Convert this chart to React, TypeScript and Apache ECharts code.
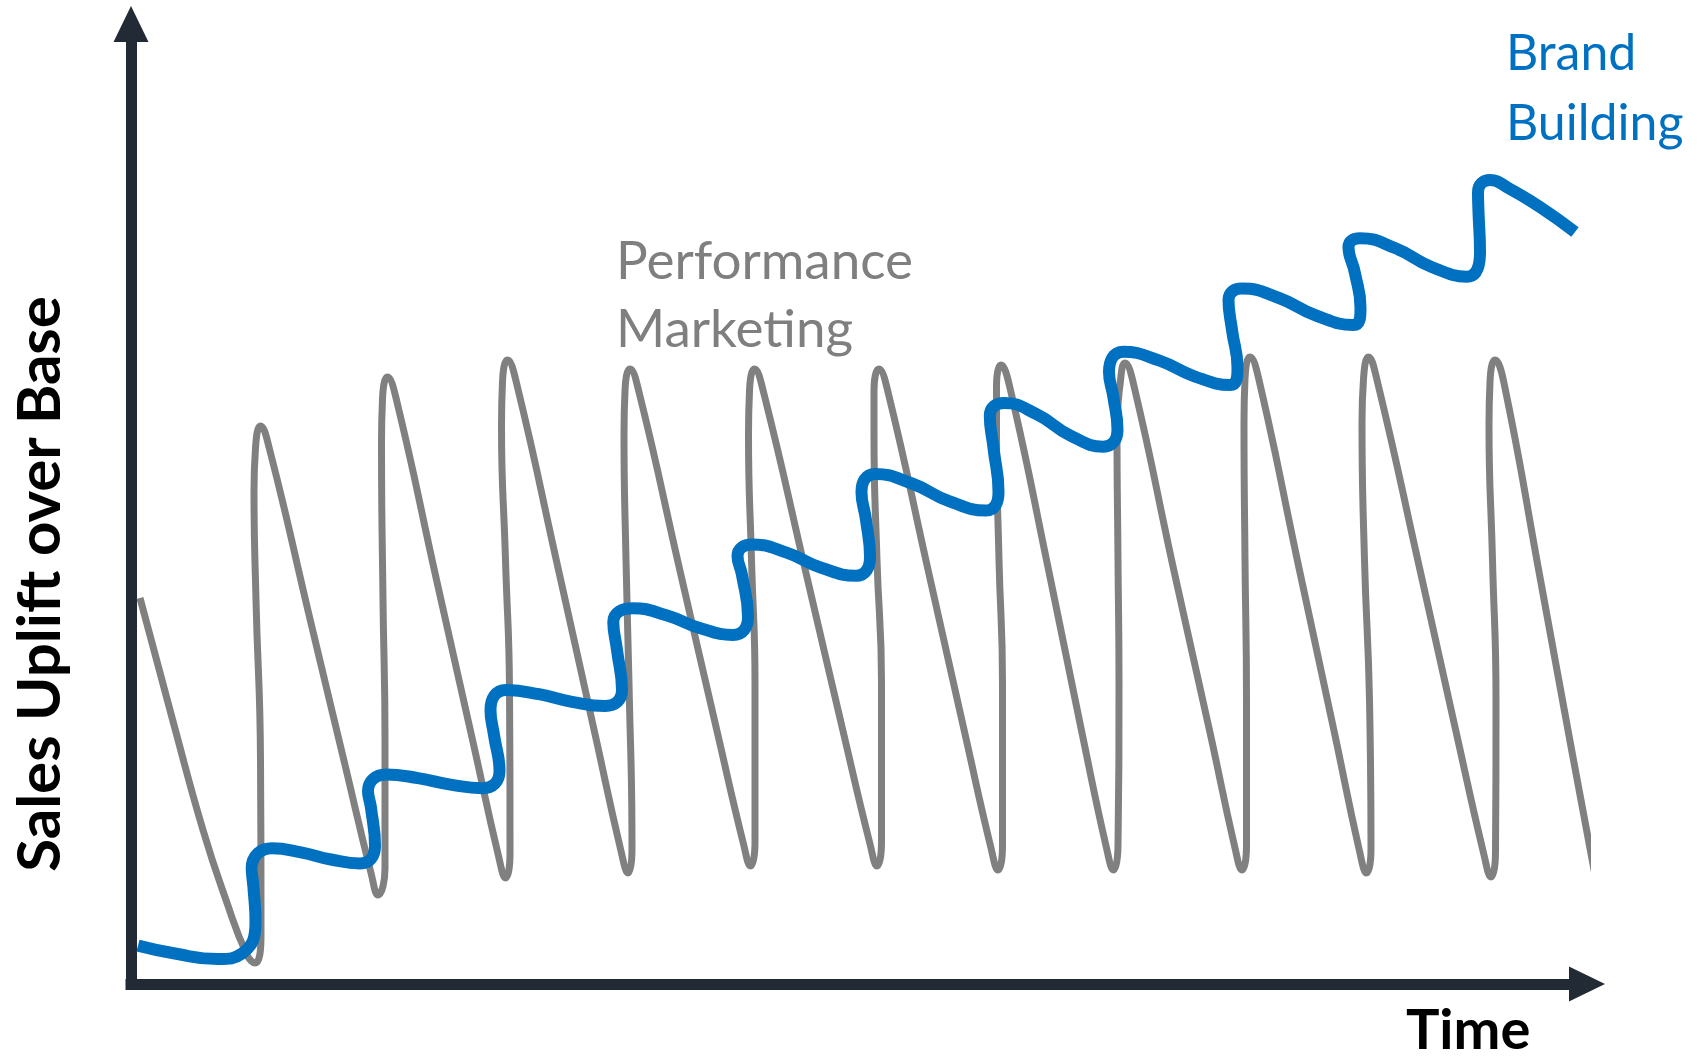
import React, { useEffect, useRef } from "react";
import * as echarts from "echarts";

// [time, sales uplift] points (arbitrary units)
const performanceMarketing: [number, number][] = [
  [0.9, 38.6], [4.3, 25.9], [7.2, 15.4], [9.5, 8.4], [11.6, 2.9], [12.4, 2.1],
  [13.0, 4.9], [12.95, 22.4], [12.5, 38.4], [12.3, 49.3], [12.45, 53.6], [12.95, 55.8],
  [13.85, 53.5], [17.9, 36.5], [21.45, 21.7], [24.0, 11.1], [24.7, 8.9],
  [25.4, 11.6], [25.4, 24.4], [25.2, 38.4], [25.05, 54.2], [25.15, 58.5], [25.65, 60.7],
  [26.55, 58.4], [30.6, 40.2], [34.2, 24.2], [36.75, 12.8], [37.45, 10.6],
  [37.9, 13.1], [37.85, 29.4], [37.45, 42.4], [37.05, 55.9], [37.15, 60.2], [37.65, 62.4],
  [38.55, 60.1], [42.75, 41.4], [46.4, 25.0], [49.0, 13.3], [49.7, 11.1],
  [50.1, 13.6], [49.8, 30.1], [49.5, 42.4], [49.3, 55.0], [49.4, 59.3], [49.9, 61.5],
  [50.8, 59.2], [54.95, 41.1], [58.6, 25.3], [61.25, 14.0], [61.95, 11.8],
  [62.4, 14.3], [62.4, 30.1], [62.05, 42.4], [61.75, 55.0], [61.85, 59.3], [62.35, 61.5],
  [63.25, 59.2], [67.5, 41.1], [71.2, 25.3], [73.9, 14.0], [74.6, 11.8],
  [75.05, 14.3], [75.05, 30.1], [74.6, 42.4], [74.3, 55.0], [74.3, 59.3], [74.8, 61.5],
  [75.7, 59.2], [79.8, 41.0], [83.4, 25.0], [86.0, 13.6], [86.7, 11.4],
  [87.15, 13.9], [87.15, 30.1], [86.8, 42.4], [86.55, 55.4], [86.55, 59.7], [87.0, 61.9],
  [87.9, 59.6], [91.8, 41.2], [95.1, 25.1], [97.55, 13.6], [98.25, 11.4],
  [98.7, 13.9], [98.8, 30.1], [98.7, 42.4], [98.6, 55.6], [98.9, 59.9], [99.4, 62.1],
  [100.3, 59.8], [104.3, 41.3], [107.9, 25.15], [110.4, 13.6], [111.1, 11.4],
  [111.55, 13.9], [111.55, 28.4], [111.4, 42.4], [111.3, 56.2], [111.4, 60.5], [111.9, 62.7],
  [112.8, 60.4], [116.8, 41.6], [120.35, 25.1], [122.85, 13.3], [123.55, 11.1],
  [124.0, 13.6], [123.85, 28.4], [123.35, 42.4], [123.1, 56.2], [123.25, 60.5], [123.75, 62.7],
  [124.6, 60.4], [128.9, 41.4], [132.6, 24.8], [135.3, 12.9], [136.0, 10.7],
  [136.45, 13.2], [136.5, 28.4], [136.15, 42.4], [135.8, 55.9], [135.9, 60.2], [136.4, 62.4],
  [137.3, 60.1], [140.95, 40.4], [144.1, 23.2], [146.4, 10.9],
];

const brandBuilding: [number, number][] = [
  [0.7, 3.84], [4.4, 3.05], [8.7, 2.5], [11.1, 3.05],
  [12.45, 6.2], [12.25, 9.6], [12.07, 11.6], [14.1, 13.57],
  [17.0, 13.17], [20.0, 12.45], [22.9, 12.05],
  [24.4, 13.8], [24.0, 17.6], [23.7, 19.3], [25.5, 20.95],
  [28.7, 20.59], [31.95, 19.94], [35.16, 19.58],
  [36.85, 21.3], [36.3, 24.9], [35.95, 27.4], [37.5, 29.4],
  [40.8, 28.98], [44.1, 28.22], [47.4, 27.8],
  [49.1, 29.4], [48.6, 33.4], [48.23, 36.2], [50.2, 37.57],
  [53.53, 36.88], [56.87, 35.6], [60.2, 34.9],
  [61.7, 36.7], [61.1, 40.9], [60.65, 42.8], [62.1, 43.95],
  [65.56, 43.14], [69.02, 41.63], [72.48, 40.82],
  [73.9, 42.7], [73.5, 46.4], [73.05, 49.2], [74.4, 51.0],
  [78.1, 50.05], [81.8, 48.29], [85.5, 47.34],
  [86.75, 49.2], [86.25, 53.6], [85.88, 56.8], [87.3, 58.1],
  [90.6, 56.96], [93.9, 54.87], [97.23, 53.73],
  [98.65, 55.4], [98.23, 58.73], [97.8, 61.2], [99.23, 63.23],
  [102.79, 62.36], [106.34, 60.77], [109.9, 59.9],
  [110.65, 61.6], [110.1, 65.4], [109.75, 68.4], [111.1, 69.55],
  [114.8, 68.6], [118.5, 66.85], [122.23, 65.9],
  [122.95, 67.6], [122.4, 71.07], [121.75, 73.7], [122.9, 74.57],
  [126.46, 73.57], [130.01, 71.73], [133.57, 70.73],
  [134.9, 73.2], [134.75, 77.2], [134.7, 79.2], [135.9, 80.4],
  [137.9, 79.5], [140.9, 77.7], [144.4, 75.2],
];

const performanceLabel = ["Performance", "Marketing"];
const brandLabel = ["Brand", "Building"];
const xAxisTitle = "Time";
const yAxisTitle = "Sales Uplift over Base";

const AXIS_COLOR = "#222a35";
const GRAY = "#808080";
const BLUE = "#0070c0";

function axisCommon(max: number) {
  return {
    type: "value" as const,
    min: 0,
    max,
    axisLine: {
      show: true,
      symbol: ["none", "triangle"],
      symbolSize: [35, 36],
      lineStyle: { color: AXIS_COLOR, width: 11, cap: "square" as const },
    },
    axisTick: { show: false },
    axisLabel: { show: false },
    splitLine: { show: false },
  };
}

function textEl(text: string, x: number, y: number, font: string, fill: string, extra: any = {}) {
  return {
    type: "text",
    x,
    y,
    silent: true,
    ...extra,
    style: {
      text,
      font,
      fill,
      align: extra.align || "left",
      textAlign: extra.align || "left",
      verticalAlign: "middle",
      textVerticalAlign: "middle",
    },
  };
}

export default function App() {
  const ref = useRef<HTMLDivElement>(null);
  useEffect(() => {
    if (!ref.current) return;
    const chart = echarts.init(ref.current, null, { renderer: "svg" });
    chart.setOption({
      animation: false,
      backgroundColor: "#ffffff",
      grid: { left: 131, right: 114, top: 24, bottom: 79 },
      xAxis: axisCommon(145.6),
      yAxis: axisCommon(96),
      series: [
        {
          name: performanceLabel.join(" "),
          type: "line",
          data: performanceMarketing,
          smooth: 0.5,
          symbol: "none",
          clip: false,
          lineStyle: { color: GRAY, width: 7, join: "round" },
          z: 2,
        },
        {
          name: brandLabel.join(" "),
          type: "line",
          data: brandBuilding,
          smooth: 0.5,
          symbol: "none",
          clip: false,
          lineStyle: { color: BLUE, width: 12, join: "round" },
          z: 3,
        },
      ],
      graphic: [
        textEl(performanceLabel[0], 616, 258, "normal 53px Lato", "#7f7f7f"),
        textEl(performanceLabel[1], 616, 326, "normal 53px Lato", "#7f7f7f"),
        textEl(brandLabel[0], 1506, 51, "normal 50px Lato", BLUE),
        textEl(brandLabel[1], 1506, 121, "normal 50px Lato", BLUE),
        textEl(xAxisTitle, 1406, 1027, "bold 56px Lato", "#000000"),
        textEl(yAxisTitle, 36.5, 584, "bold 60px Lato", "#000000", {
          rotation: Math.PI / 2,
          align: "center",
        }),
      ],
    });
    return () => chart.dispose();
  }, []);
  return (
    <div
      ref={ref}
      style={{ position: "absolute", left: 0, top: 0, width: 1701, height: 1063, background: "#fff" }}
    />
  );
}
